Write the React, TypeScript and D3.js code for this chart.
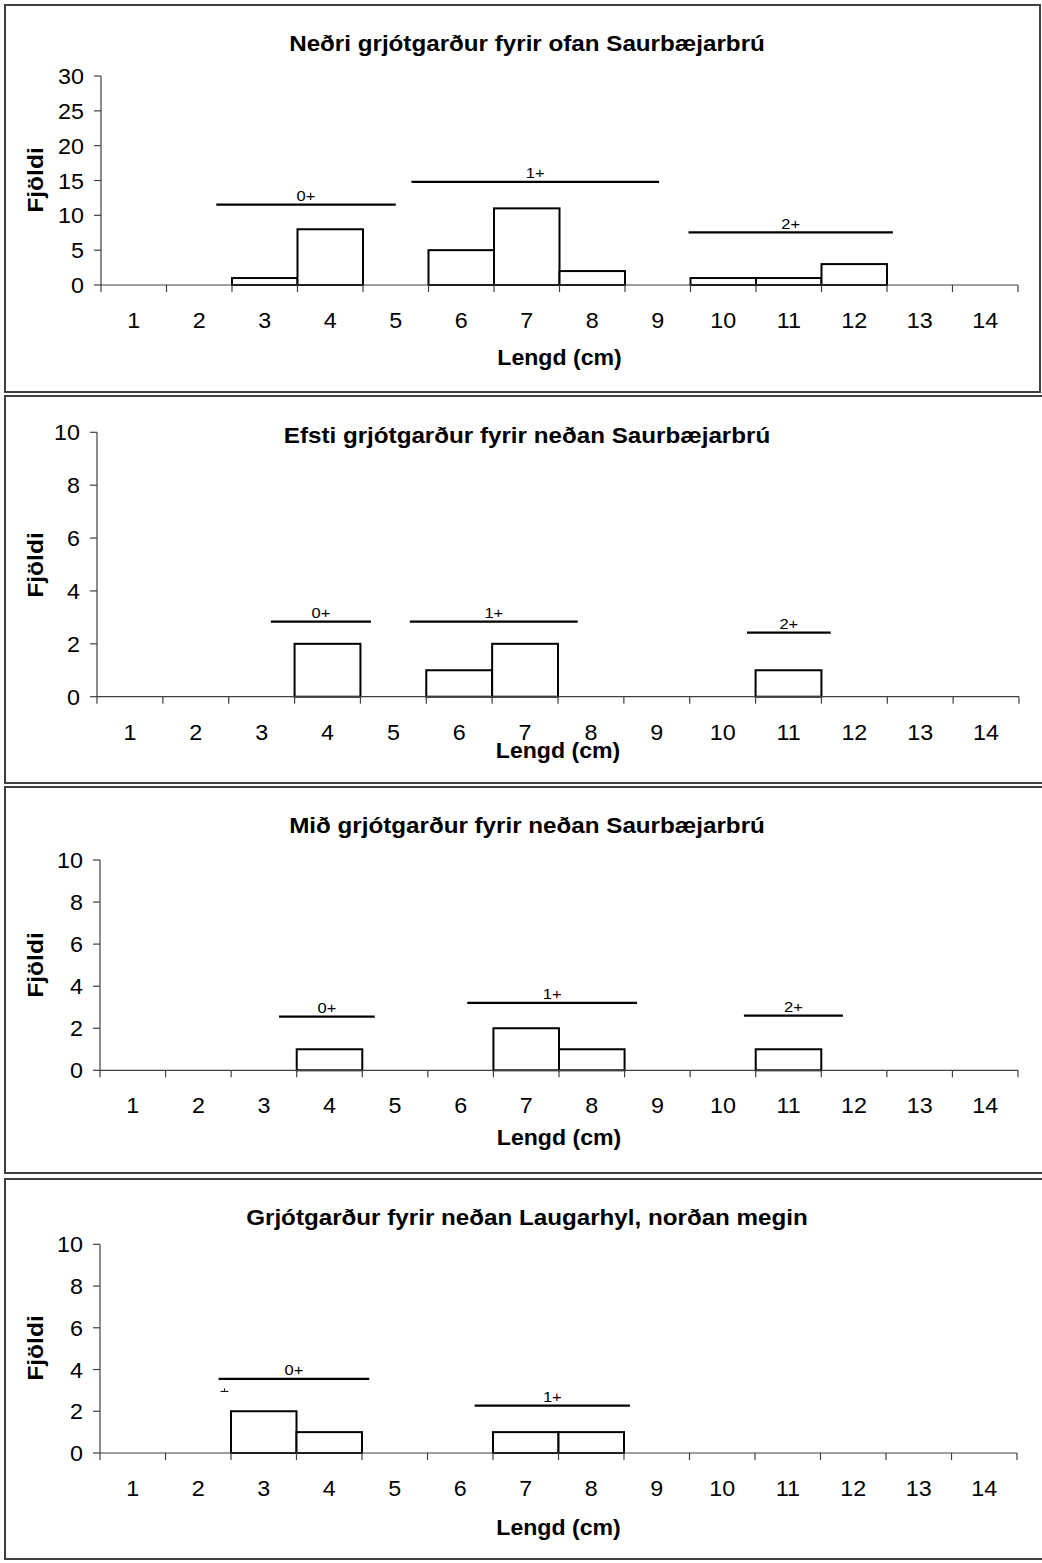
import * as d3 from "d3";

// Length classes (cm) on the x axis
const lengthClasses = [1, 2, 3, 4, 5, 6, 7, 8, 9, 10, 11, 12, 13, 14];

const panelTitles = [
  "Neðri grjótgarður fyrir ofan Saurbæjarbrú",
  "Efsti grjótgarður fyrir neðan Saurbæjarbrú",
  "Mið grjótgarður fyrir neðan Saurbæjarbrú",
  "Grjótgarður fyrir neðan Laugarhyl, norðan megin",
];

// Counts per length class, one array per site
const countsNedri = [0, 0, 1, 8, 0, 5, 11, 2, 0, 1, 1, 3, 0, 0];
const countsEfsti = [0, 0, 0, 2, 0, 1, 2, 0, 0, 0, 1, 0, 0, 0];
const countsMid = [0, 0, 0, 1, 0, 0, 2, 1, 0, 0, 1, 0, 0, 0];
const countsLaugarhyl = [0, 0, 2, 1, 0, 0, 1, 1, 0, 0, 0, 0, 0, 0];

const yMaxes = [30, 10, 10, 10];
const yTickSteps = [5, 2, 2, 2];

// Age group bars: from length, to length, at count, label
type AgeGroup = { from: number; to: number; level: number; label: string };
const ageNedri: AgeGroup[] = [
  { from: 2.26, to: 5.0, level: 11.55, label: "0+" },
  { from: 5.24, to: 9.02, level: 14.8, label: "1+" },
  { from: 9.47, to: 12.59, level: 7.56, label: "2+" },
];
const ageEfsti: AgeGroup[] = [
  { from: 3.14, to: 4.66, level: 2.84, label: "0+" },
  { from: 5.25, to: 7.8, level: 2.84, label: "1+" },
  { from: 10.37, to: 11.64, level: 2.42, label: "2+" },
];
const ageMid: AgeGroup[] = [
  { from: 3.23, to: 4.69, level: 2.55, label: "0+" },
  { from: 6.1, to: 8.69, level: 3.21, label: "1+" },
  { from: 10.32, to: 11.83, level: 2.6, label: "2+" },
];
const ageLaugarhyl: AgeGroup[] = [
  { from: 2.31, to: 4.61, level: 3.55, label: "0+" },
  { from: 6.22, to: 8.59, level: 2.27, label: "1+" },
];

// small stray "+" mark left in the last panel
const strayMarks = [{ panel: 3, at: 2.4, level: 2.95 }];

const panelCounts = [countsNedri, countsEfsti, countsMid, countsLaugarhyl];
const panelAges = [ageNedri, ageEfsti, ageMid, ageLaugarhyl];

// page layout per panel
const layouts = [
  { box: [5, 5, 1040, 392], top: 76, bottom: 285, left: 101, right: 1018, titleY: 50.7, lengdOff: 80, fjoldiY: 180 },
  { box: [5, 396, 1044, 783], top: 432.3, bottom: 696.7, left: 97, right: 1019, titleY: 443.3, lengdOff: 61, fjoldiY: 565 },
  { box: [5, 787, 1044, 1173], top: 860, bottom: 1070.3, left: 100, right: 1018, titleY: 833.3, lengdOff: 75, fjoldiY: 965 },
  { box: [5, 1179, 1044, 1559], top: 1244.3, bottom: 1453, left: 100, right: 1017, titleY: 1225, lengdOff: 82, fjoldiY: 1348 },
];

const FONT = "'Liberation Sans', Arial, Helvetica, sans-serif";
const INK = "#000";
const AXIS = "#404040";

function SText({
  x,
  y,
  sx = 1.1,
  size,
  bold = false,
  anchor = "middle",
  baseline,
  rotate = 0,
  children,
}: {
  x: number;
  y: number;
  sx?: number;
  size: number;
  bold?: boolean;
  anchor?: string;
  baseline?: string;
  rotate?: number;
  children: any;
}) {
  return (
    <text
      transform={`translate(${x},${y}) rotate(${rotate}) scale(${sx},1)`}
      fontSize={size}
      fontWeight={bold ? "bold" : "normal"}
      fontFamily={FONT}
      textAnchor={anchor}
      dominantBaseline={baseline}
      fill={INK}
    >
      {children}
    </text>
  );
}

function Panel({ index }: { index: number }) {
  const lay = layouts[index];
  const counts = panelCounts[index];
  const ages = panelAges[index];
  const yMax = yMaxes[index];
  const step = yTickSteps[index];

  const x = d3
    .scaleBand<number>()
    .domain(lengthClasses)
    .range([lay.left, lay.right])
    .paddingInner(0)
    .paddingOuter(0);
  const xc = d3.scaleLinear().domain([0.5, 14.5]).range([lay.left, lay.right]);
  const y = d3.scaleLinear().domain([0, yMax]).range([lay.bottom, lay.top]);
  const yTicks = d3.range(0, yMax + step / 2, step);
  const boundaries = [0.5, ...lengthClasses.map((c) => c + 0.5)];

  const [bx0, by0, bx1, by1] = lay.box;
  const plotMid = (lay.left + lay.right) / 2;

  return (
    <g>
      <rect x={bx0} y={by0} width={bx1 - bx0} height={by1 - by0} fill="#fff" stroke={AXIS} strokeWidth={2} />

      <SText x={527} y={lay.titleY} size={22} bold>
        {panelTitles[index]}
      </SText>

      {/* y axis */}
      <line x1={lay.left} x2={lay.left} y1={y(yMax)} y2={y(0)} stroke={AXIS} strokeWidth={1.2} />
      {yTicks.map((t) => (
        <g key={`y${t}`}>
          <line x1={lay.left - 7} x2={lay.left} y1={y(t)} y2={y(t)} stroke={AXIS} strokeWidth={1.2} />
          <SText x={lay.left - 17} y={y(t) + 8} size={22} anchor="end" sx={1.06}>
            {t}
          </SText>
        </g>
      ))}

      {/* bars */}
      {lengthClasses.map((c, i) =>
        counts[i] > 0 ? (
          <rect
            key={`b${c}`}
            x={x(c)}
            y={y(counts[i])}
            width={x.bandwidth()}
            height={y(0) - y(counts[i])}
            fill="#fff"
            stroke={INK}
            strokeWidth={2}
          />
        ) : null
      )}

      {/* x axis */}
      <line x1={lay.left} x2={lay.right} y1={y(0)} y2={y(0)} stroke={AXIS} strokeWidth={1.2} />
      {boundaries.map((b) => (
        <line key={`xt${b}`} x1={xc(b)} x2={xc(b)} y1={y(0)} y2={y(0) + 7} stroke={AXIS} strokeWidth={1.2} />
      ))}
      {lengthClasses.map((c) => (
        <SText key={`xl${c}`} x={(x(c) ?? 0) + x.bandwidth() / 2} y={y(0) + 43} size={22} sx={1.06}>
          {c}
        </SText>
      ))}

      {/* age group markers */}
      {ages.map((a) => (
        <g key={a.label}>
          <line x1={xc(a.from)} x2={xc(a.to)} y1={y(a.level)} y2={y(a.level)} stroke={INK} strokeWidth={2.2} />
          <SText x={(xc(a.from) + xc(a.to)) / 2} y={y(a.level) - 3.5} size={15}>
            {a.label}
          </SText>
        </g>
      ))}
      {strayMarks
        .filter((m) => m.panel === index)
        .map((m, k) => (
          <g key={`s${k}`}>
            <line x1={xc(m.at - 0.06)} x2={xc(m.at + 0.06)} y1={y(m.level)} y2={y(m.level)} stroke={INK} strokeWidth={1} />
            <line x1={xc(m.at)} x2={xc(m.at)} y1={y(m.level)} y2={y(m.level) - 3} stroke={INK} strokeWidth={1} />
          </g>
        ))}

      <SText x={plotMid} y={y(0) + lay.lengdOff} size={22} bold sx={1.05}>
        Lengd (cm)
      </SText>
      <SText x={35} y={lay.fjoldiY} size={22} bold rotate={-90} sx={1.12} baseline="central">
        Fjöldi
      </SText>
    </g>
  );
}

export default function App() {
  return (
    <svg
      width={1042}
      height={1563}
      viewBox="0 0 1042 1563"
      style={{ position: "absolute", left: 0, top: 0, background: "#fff" }}
    >
      <rect x={0} y={0} width={1042} height={1563} fill="#fff" />
      {panelTitles.map((_, i) => (
        <Panel key={i} index={i} />
      ))}
    </svg>
  );
}
